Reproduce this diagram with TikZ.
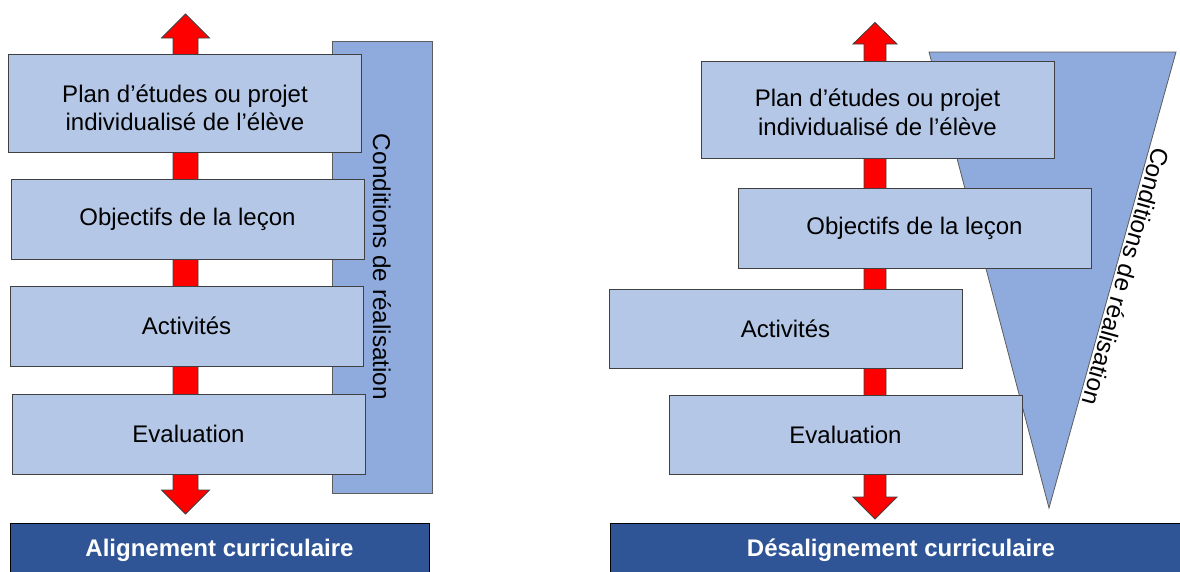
\documentclass[tikz,border=0pt]{standalone}
\usepackage{fontspec}
\setmainfont{Liberation Sans}
\usepackage{tikz}

\definecolor{boxfill}{HTML}{B4C7E7}
\definecolor{condfill}{HTML}{8FAADC}
\definecolor{bannerfill}{HTML}{2F5597}
\definecolor{edgegray}{HTML}{404040}

\tikzset{
  etape/.style={draw=edgegray, fill=boxfill, line width=0.9pt, minimum width=353, minimum height=80, inner sep=0pt, align=center, font=\fontsize{24}{28.5}\selectfont},
  bandeau/.style={draw=black, fill=bannerfill, line width=1pt, minimum height=54, inner sep=0pt, text=white, font=\bfseries\fontsize{24}{28}\selectfont},
  fleche/.style={draw=edgegray, fill=red, line width=0.8pt},
  cond/.style={draw=edgegray!85, fill=condfill, line width=0.8pt},
  condtexte/.style={font=\fontsize{24.3}{28}\selectfont}
}

\begin{document}
\begin{tikzpicture}[x=1pt,y=-1pt]
\useasboundingbox (0,0) rectangle (1180,571);
\clip (0,0) rectangle (1180,571);

\node[cond, condtexte, rotate=-90, minimum width=452, minimum height=100, inner sep=0pt] (lcond) at (382,267) {Conditions de réalisation};

\coordinate (tg) at (929,52);
\coordinate (td) at (1176,52);
\coordinate (tb) at (1049,508);
\draw[cond] (tg) -- (td) -- (tb) -- cycle;
\path (td) -- (tb) node[condtexte, pos=.485, rotate=-105.7, anchor=south, inner sep=3pt] (rcond) {Conditions de réalisation};

\foreach \cx/\yh/\ybh/\ybb/\yb/\hw/\sw in {185.5/14/38/490/514/24/12.5, 875/22.5/44/497/519/22/11} {
    \draw[fleche] (\cx,\yh) -- (\cx+\hw,\ybh) -- (\cx+\sw,\ybh) -- (\cx+\sw,\ybb) -- (\cx+\hw,\ybb)
        -- (\cx,\yb) -- (\cx-\hw,\ybb) -- (\cx-\sw,\ybb) -- (\cx-\sw,\ybh) -- (\cx-\hw,\ybh) -- cycle;
}

\foreach \n/\x/\y/\h/\t in {lplan/185/103/98/{\rule{0pt}{27pt}Plan d’études ou projet\\individualisé de l’élève},lobj/187.5/219/80/{Objectifs de la leçon},lact/186.5/326/80/{Activités},leval/188.5/434/80/{Evaluation}} {
    \node[etape, minimum height=\h] (\n) at (\x,\y) {\t};
}
\foreach \n/\x/\y/\h/\t in {rplan/877.5/109.5/97/{\rule{0pt}{23pt}Plan d’études ou projet\\individualisé de l’élève},robj/914.5/228/80/{Objectifs de la leçon},ract/785.5/328.5/79/{Activités},reval/845.5/434.5/79/{Evaluation}} {
    \node[etape, minimum height=\h] (\n) at (\x,\y) {\t};
}

\node[bandeau, minimum width=419] (lban) at (219.5,550) {Alignement curriculaire};
\node[bandeau, minimum width=582] (rban) at (901,550) {Désalignement curriculaire};
\end{tikzpicture}
\end{document}
